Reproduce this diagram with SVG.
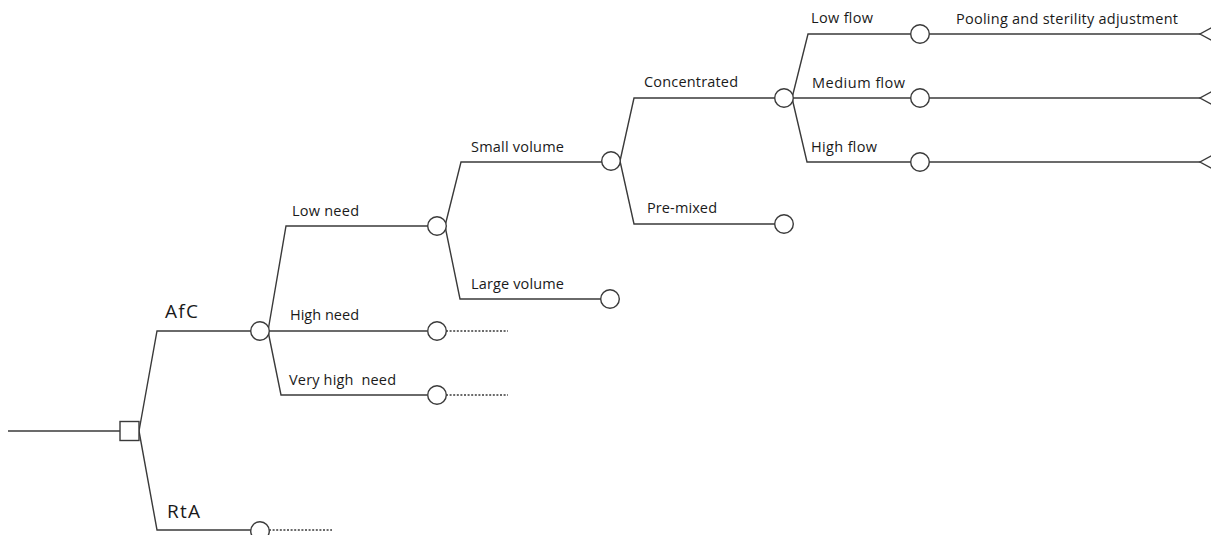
<svg xmlns="http://www.w3.org/2000/svg" width="1211" height="535" viewBox="0 0 1211 535">
<style>
.ln{fill:none;stroke:#3a3a3a;stroke-width:1.4}
.dot{fill:none;stroke:#3a3a3a;stroke-width:1.4;stroke-dasharray:2 1.6}
.ch{fill:#fff;stroke:#3a3a3a;stroke-width:1.4}
.t{font-family:"Open Sans","Liberation Sans",sans-serif;font-size:14.5px;fill:#1a1a1a}
.tb{font-family:"Open Sans","Liberation Sans",sans-serif;font-size:19px;fill:#1a1a1a}
</style>
<rect width="1211" height="535" fill="#fff"/>
<g id="connectors">
<path class="ln" d="M8,431 H120"/>
<path class="ln" d="M139,431 L157,331 H251"/>
<path class="ln" d="M139,431 L157,530 H251"/>
<path class="dot" d="M269,530 H332"/>
<path class="ln" d="M268,331 L286,226 H428"/>
<path class="ln" d="M269,331 H427"/>
<path class="ln" d="M268,331 L281,395 H427"/>
<path class="dot" d="M446,331 H508"/>
<path class="dot" d="M446,395 H508"/>
<path class="ln" d="M445,226 L461,162 H602"/>
<path class="ln" d="M445,226 L460,299 H601"/>
<path class="ln" d="M620,161 L634,98 H775"/>
<path class="ln" d="M620,161 L634,224 H775"/>
<path class="ln" d="M792,98 L808,34 H911"/>
<path class="ln" d="M793,98 H911"/>
<path class="ln" d="M792,98 L807,162 H911"/>
<path class="ln" d="M929,34 H1200"/>
<path class="ln" d="M929,98 H1200"/>
<path class="ln" d="M929,162 H1200"/>
</g>
<g id="root"><rect class="ch" x="120" y="421.5" width="19" height="19"/></g>
<g id="afc"><circle class="ch" cx="260" cy="331" r="9.3"/><text class="tb" x="165" y="318" textLength="33">AfC</text></g>
<g id="rta"><circle class="ch" cx="260" cy="531" r="9.3"/><text class="tb" x="167" y="518" textLength="33">RtA</text></g>
<g id="low-need"><circle class="ch" cx="437" cy="226" r="9.3"/><text class="t" x="292" y="216" textLength="67">Low need</text></g>
<g id="high-need"><circle class="ch" cx="437" cy="331" r="9.3"/><text class="t" x="290" y="320" textLength="69">High need</text></g>
<g id="very-high-need"><circle class="ch" cx="437" cy="395" r="9.3"/><text class="t" x="289" y="385" textLength="107" xml:space="preserve">Very high  need</text></g>
<g id="small-volume"><circle class="ch" cx="611" cy="161" r="9.3"/><text class="t" x="471" y="152" textLength="93">Small volume</text></g>
<g id="large-volume"><circle class="ch" cx="610" cy="299" r="9.3"/><text class="t" x="471" y="289" textLength="93">Large volume</text></g>
<g id="concentrated"><circle class="ch" cx="784" cy="98" r="9.3"/><text class="t" x="644" y="87" textLength="94">Concentrated</text></g>
<g id="pre-mixed"><circle class="ch" cx="784" cy="224" r="9.3"/><text class="t" x="647" y="213" textLength="70">Pre-mixed</text></g>
<g id="low-flow"><circle class="ch" cx="920" cy="34" r="9.3"/><text class="t" x="811" y="23" textLength="62">Low flow</text></g>
<g id="medium-flow"><circle class="ch" cx="920" cy="98" r="9.3"/><text class="t" x="812" y="88" textLength="93">Medium flow</text></g>
<g id="high-flow"><circle class="ch" cx="920" cy="162" r="9.3"/><text class="t" x="811" y="152" textLength="66">High flow</text></g>
<g id="end-1"><polyline class="ln" points="1213,27 1200,34 1213,41"/><text class="t" x="956" y="24" textLength="222">Pooling and sterility adjustment</text></g>
<g id="end-2"><polyline class="ln" points="1213,91 1200,98 1213,105"/></g>
<g id="end-3"><polyline class="ln" points="1213,155 1200,162 1213,169"/></g>
</svg>
